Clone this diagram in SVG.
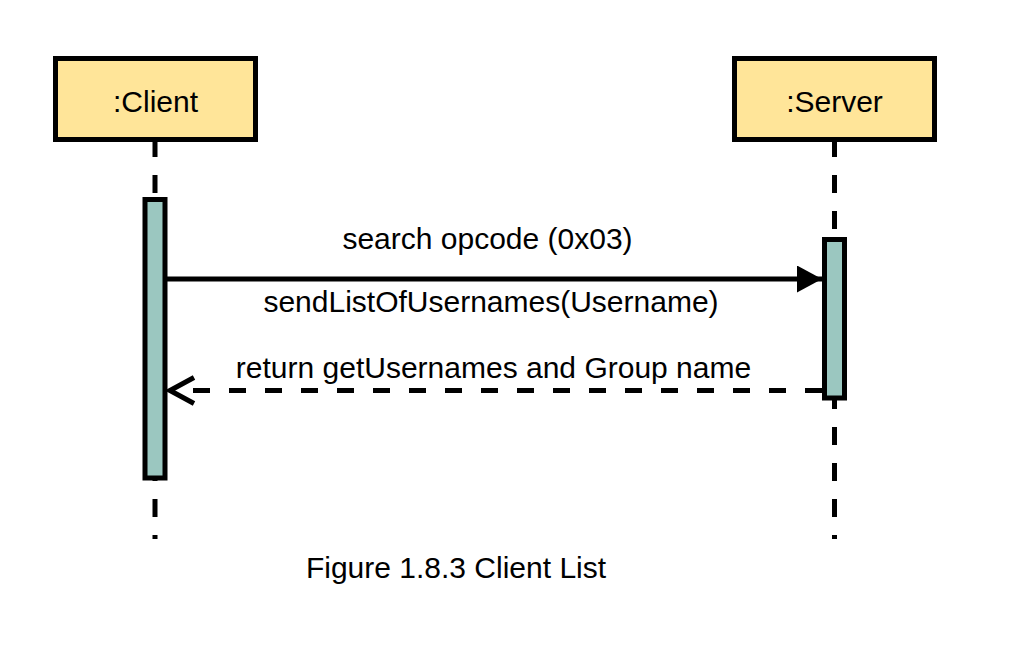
<svg xmlns="http://www.w3.org/2000/svg" width="1016" height="661" viewBox="0 0 1016 661">
<style>
.box{fill:#FFE599;stroke:#000;stroke-width:5}
.bar{fill:#9BC7C0;stroke:#000;stroke-width:5}
.life{stroke:#000;stroke-width:5;stroke-dasharray:18 18;fill:none}
.t{font-family:"Liberation Sans",Arial,sans-serif;font-size:30px;fill:#000;text-anchor:middle}
</style>
<defs>
<marker id="solidHead" markerUnits="userSpaceOnUse" viewBox="0 0 25 27" refX="25" refY="13.5" markerWidth="25" markerHeight="27" orient="auto">
<path d="M0,0 L25,13.5 L0,27 Z" fill="#000"/>
</marker>
<marker id="openHead" markerUnits="userSpaceOnUse" viewBox="0 0 30 32" refX="27" refY="16" markerWidth="30" markerHeight="32" orient="auto">
<path d="M3,3 L27,16 L3,29" fill="none" stroke="#000" stroke-width="5"/>
</marker>
</defs>
<rect width="1016" height="661" fill="#fff"/>
<g id="client">
<line class="life" x1="155" y1="139" x2="155" y2="539"/>
<rect class="box" x="55.5" y="58.5" width="200" height="81"/>
<text class="t" x="155.5" y="112">:Client</text>
<rect class="bar" x="145" y="199.5" width="20" height="278.5"/>
</g>
<g id="server">
<line class="life" x1="834.5" y1="139" x2="834.5" y2="539"/>
<rect class="box" x="734.5" y="58.5" width="200" height="81"/>
<text class="t" x="834.5" y="112">:Server</text>
<rect class="bar" x="824.5" y="239.5" width="20" height="158.5"/>
</g>
<g id="connectors">
<line x1="167" y1="279" x2="822" y2="279" stroke="#000" stroke-width="5" marker-end="url(#solidHead)"/>
<line x1="822" y1="390.5" x2="170" y2="390.5" stroke="#000" stroke-width="5" stroke-dasharray="17 19" marker-end="url(#openHead)"/>
<text class="t" x="487.5" y="249">search opcode (0x03)</text>
<text class="t" x="491" y="312">sendListOfUsernames(Username)</text>
<text class="t" x="493.5" y="378">return getUsernames and Group name</text>
</g>
<text class="t" x="456" y="578">Figure 1.8.3 Client List</text>
</svg>
